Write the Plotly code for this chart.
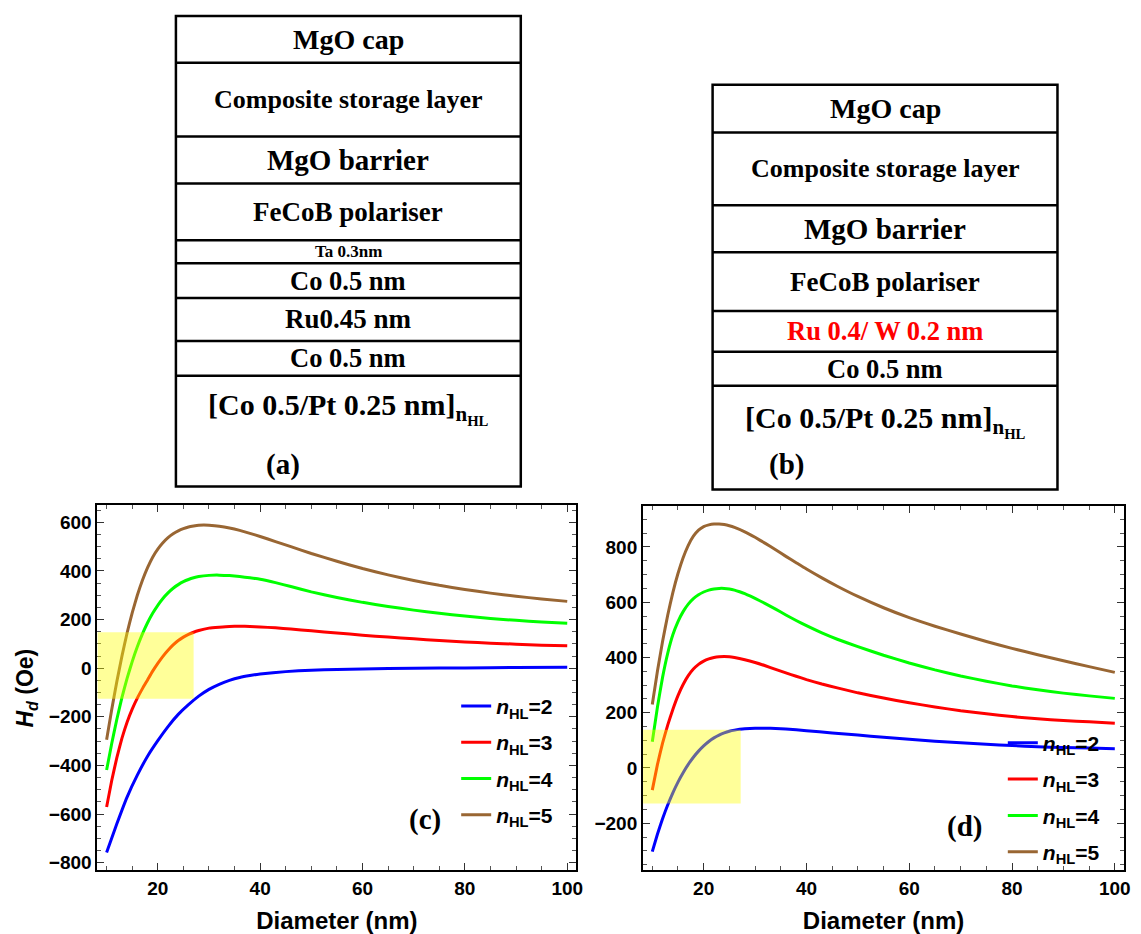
import plotly.graph_objects as go

W, H = 1141, 934
def px(x): return x / W
def py(y): return 1 - y / H

# ---------------- data: panel (c) ----------------
c_x2 = [10, 12, 14, 16, 18, 20, 22, 24, 26, 28, 30, 32, 34, 36, 38, 40, 45, 50, 55, 60, 70, 80, 90, 100]
c_y2 = [-758, -640, -530, -440, -362, -298, -240, -190, -150, -115, -87, -66, -50, -38, -30, -24, -14, -8, -5, -3, 0, 1, 3, 4]
c_x3 = [10, 11, 12, 13, 14, 15, 16, 17, 18, 19, 20, 21, 22, 23, 24, 25, 26, 27, 28, 30, 32, 34, 36, 38, 40, 43, 46, 50, 55, 60, 65, 70, 75, 80, 85, 90, 95, 100]
c_y3 = [-571, -462, -368, -288, -222, -168, -123, -84, -48, -12, 20, 49, 74, 96, 114, 128, 139, 148, 155, 165, 169, 172, 173, 172, 170, 166, 161, 154, 145, 136, 128, 121, 114, 108, 103, 99, 95, 92]
c_x4 = [10, 11, 12, 13, 14, 15, 16, 17, 18, 19, 20, 21, 22, 23, 24, 25, 26, 27, 28, 30, 32, 34, 36, 38, 40, 43, 46, 50, 55, 60, 65, 70, 75, 80, 85, 90, 95, 100]
c_y4 = [-419, -310, -210, -120, -42, 27, 88, 141, 187, 226, 259, 287, 310, 329, 344, 356, 365, 372, 377, 382, 383, 381, 377, 372, 366, 352, 336, 314, 291, 271, 254, 239, 226, 215, 205, 197, 190, 185]
c_x5 = [10, 11, 12, 13, 14, 15, 16, 17, 18, 19, 20, 21, 22, 23, 24, 25, 26, 27, 28, 29, 30, 32, 34, 36, 38, 40, 43, 46, 50, 55, 60, 65, 70, 75, 80, 85, 90, 95, 100]
c_y5 = [-294, -170, -55, 50, 145, 228, 300, 362, 414, 457, 490, 516, 537, 553, 565, 574, 581, 585, 588, 589, 588, 584, 577, 567, 555, 542, 521, 500, 472, 440, 410, 384, 361, 341, 324, 309, 296, 285, 275]

# ---------------- data: panel (d) ----------------
d_x2 = [10, 11, 12, 13, 14, 15, 16, 17, 18, 19, 20, 21, 22, 23, 24, 25, 26, 27, 28, 30, 32, 34, 36, 40, 45, 50, 55, 60, 65, 70, 75, 80, 85, 90, 95, 100]
d_y2 = [-303, -240, -184, -134, -90, -51, -17, 13, 39, 61, 80, 96, 109, 119, 127, 133, 137, 140, 142, 144, 144, 143, 141, 135, 127, 119, 111, 104, 97, 91, 86, 81, 77, 74, 72, 70]
d_x3 = [10, 11, 12, 13, 14, 15, 16, 17, 18, 19, 20, 21, 22, 23, 24, 25, 26, 28, 30, 32, 34, 36, 38, 40, 43, 46, 50, 55, 60, 65, 70, 75, 80, 85, 90, 95, 100]
d_y3 = [-80, 12, 90, 155, 212, 262, 302, 334, 358, 375, 387, 395, 400, 403, 404, 403, 400, 392, 382, 370, 357, 344, 332, 320, 304, 290, 272, 253, 236, 221, 207, 196, 186, 178, 172, 167, 162]
d_x4 = [10, 11, 12, 13, 14, 15, 16, 17, 18, 19, 20, 21, 22, 23, 24, 25, 26, 27, 28, 29, 30, 32, 34, 36, 38, 40, 43, 46, 50, 55, 60, 65, 70, 75, 80, 85, 90, 95, 100]
d_y4 = [95, 220, 328, 415, 482, 530, 566, 593, 613, 627, 637, 644, 648, 650, 650, 648, 644, 638, 631, 623, 614, 595, 575, 554, 534, 515, 489, 466, 439, 408, 380, 355, 333, 314, 297, 283, 271, 261, 252]
d_x5 = [10, 11, 12, 13, 14, 15, 16, 17, 18, 19, 20, 21, 22, 23, 24, 25, 26, 28, 30, 32, 34, 36, 38, 40, 43, 46, 50, 55, 60, 65, 70, 75, 80, 85, 90, 95, 100]
d_y5 = [230, 350, 458, 553, 635, 704, 761, 806, 839, 861, 874, 880, 883, 883, 881, 877, 871, 855, 835, 813, 790, 766, 743, 720, 688, 658, 621, 580, 544, 513, 485, 458, 433, 410, 388, 367, 346]

series_names = ["<i>n</i><sub>HL</sub>=2", "<i>n</i><sub>HL</sub>=3",
                "<i>n</i><sub>HL</sub>=4", "<i>n</i><sub>HL</sub>=5"]
series_colors = ["#0000FF", "#FF0000", "#00FF00", "#996633"]

x_ticks = [20, 40, 60, 80, 100]
c_yticks = [-800, -600, -400, -200, 0, 200, 400, 600]
d_yticks = [-200, 0, 200, 400, 600, 800]

# highlighted region [x_end, y_low, y_high]
c_highlight = [27.0, -126, 148]
d_highlight = [27.2, -129, 138]

# ---------------- layer stacks ----------------
stack_a_labels = ["MgO cap", "Composite storage layer", "MgO barrier", "FeCoB polariser",
                  "Ta 0.3nm", "Co 0.5 nm", "Ru0.45 nm", "Co 0.5 nm",
                  "[Co 0.5/Pt 0.25 nm]<sub>n<sub>HL</sub></sub>"]
stack_b_labels = ["MgO cap", "Composite storage layer", "MgO barrier", "FeCoB polariser",
                  "Ru 0.4/ W 0.2 nm", "Co 0.5 nm",
                  "[Co 0.5/Pt 0.25 nm]<sub>n<sub>HL</sub></sub>"]

# layout of stacks (pixel geometry)
a_box = (177, 524)
a_edges = [16, 63, 137, 184, 241, 264, 299, 342, 377, 488]
a_sizes = [28, 26, 29, 27, 17, 26.5, 27, 26.5, 30]
b_box = (717, 1064)
b_edges = [85, 133, 206, 253, 312, 353, 387, 491]
b_sizes = [28, 26, 29, 27, 26.5, 26.5, 30]
b_colors = ["black"] * 4 + ["#FF0000"] + ["black"] * 2

fig = go.Figure()

panels = [
    ("x", "y", "legend", [(c_x2, c_y2), (c_x3, c_y3), (c_x4, c_y4), (c_x5, c_y5)]),
    ("x2", "y2", "legend2", [(d_x2, d_y2), (d_x3, d_y3), (d_x4, d_y4), (d_x5, d_y5)]),
]
for xa, ya, lg, data in panels:
    for i, (xs, ys) in enumerate(data):
        fig.add_trace(go.Scatter(
            x=xs, y=ys, mode="lines", name=series_names[i],
            line=dict(color=series_colors[i], width=3, shape="spline", smoothing=0.4),
            xaxis=xa, yaxis=ya, legend=lg, legendgroup=lg + str(i),
        ))

sans = "Liberation Sans"
serif = "Liberation Serif"
tickfont = dict(family=sans, size=19, color="black", weight="bold")

def axis_common():
    return dict(
        showline=True, linecolor="black", linewidth=2, mirror="ticks",
        ticks="inside", ticklen=7, tickwidth=1.3, tickcolor="#333",
        showgrid=False, zeroline=False, tickfont=tickfont,
    )

minor_x = dict(tickmode="linear", tick0=0, dtick=5, ticks="inside", ticklen=4, tickcolor="#555", tickwidth=1)
minor_y = dict(tickmode="linear", tick0=0, dtick=50, ticks="inside", ticklen=4, tickcolor="#555", tickwidth=1)
xtitle_font = dict(family=sans, size=24, color="black", weight="bold")

ybot = py(873)
fig.update_layout(
    width=W, height=H, margin=dict(l=0, r=0, t=0, b=0),
    paper_bgcolor="white", plot_bgcolor="white", autosize=False,
    xaxis=dict(domain=[px(98), px(580)], range=[8.2, 101.8], anchor="y",
               tickmode="array", tickvals=x_ticks, minor=minor_x,
               title=dict(text="Diameter (nm)", font=xtitle_font, standoff=17),
               **axis_common()),
    yaxis=dict(domain=[ybot, py(507)], range=[-831, 670], anchor="x",
               tickmode="array", tickvals=c_yticks, minor=minor_y,
               **axis_common()),
    xaxis2=dict(domain=[px(647), px(1131)], range=[8.2, 101.8], anchor="y2",
                tickmode="array", tickvals=x_ticks, minor=minor_x,
                title=dict(text="Diameter (nm)", font=xtitle_font, standoff=17),
                **axis_common()),
    yaxis2=dict(domain=[ybot, py(508)], range=[-370, 947], anchor="x2",
                tickmode="array", tickvals=d_yticks, minor=minor_y,
                **axis_common()),
    legend=dict(x=px(459), y=py(688), xanchor="left", yanchor="top", bgcolor="rgba(0,0,0,0)",
                traceorder="grouped", tracegroupgap=6,
                font=dict(family=sans, size=21, color="black", weight="bold")),
    legend2=dict(x=px(1009), y=py(725), xanchor="left", yanchor="top", bgcolor="rgba(0,0,0,0)",
                 traceorder="grouped", tracegroupgap=6,
                 font=dict(family=sans, size=21, color="black", weight="bold")),
    showlegend=True,
)

shapes = []
# highlight boxes (semi-transparent yellow over the curves)
for xa, ya, hl, xr in [("x", "y", c_highlight, 8.2), ("x2", "y2", d_highlight, 8.2)]:
    shapes.append(dict(type="rect", xref=xa, yref=ya, x0=xr, x1=hl[0], y0=hl[1], y1=hl[2],
                       fillcolor="rgba(255,255,0,0.4)", line=dict(width=0), layer="above"))

annotations = []
# y-axis title of panel (c)
annotations.append(dict(text="<i>H</i><sub><i>d</i></sub> (Oe)", xref="paper", yref="paper",
                        x=px(27), y=py(690), xanchor="center", yanchor="middle", showarrow=False,
                        textangle=-90, font=dict(family=sans, size=23, color="black", weight="bold")))

def stack(box, edges, labels, sizes, colors, last_offset):
    x0, x1 = box
    shapes.append(dict(type="rect", xref="paper", yref="paper", x0=px(x0), x1=px(x1),
                       y0=py(edges[-1]), y1=py(edges[0]), line=dict(color="black", width=2.5),
                       fillcolor="rgba(0,0,0,0)"))
    for e in edges[1:-1]:
        shapes.append(dict(type="line", xref="paper", yref="paper", x0=px(x0), x1=px(x1),
                           y0=py(e), y1=py(e), line=dict(color="black", width=2.5)))
    for i, lab in enumerate(labels):
        top, bot = edges[i], edges[i + 1]
        yc = (top + bot) / 2
        if i == len(labels) - 1:
            yc = top + last_offset
        annotations.append(dict(text=lab, xref="paper", yref="paper", x=px((x0 + x1) / 2), y=py(yc),
                                xanchor="center", yanchor="middle", showarrow=False,
                                font=dict(family=serif, size=sizes[i], color=colors[i], weight="bold")))

stack(a_box, a_edges, stack_a_labels, a_sizes, ["black"] * len(stack_a_labels), 33)
stack(b_box, b_edges, stack_b_labels, b_sizes, b_colors, 36)

panel_labels = [("(a)", 285, 466), ("(b)", 791, 466), ("(c)", 428, 822), ("(d)", 970, 829)]
for t, x, y in panel_labels:
    annotations.append(dict(text=t, xref="paper", yref="paper", x=px(x), y=py(y),
                            xanchor="center", yanchor="middle", showarrow=False,
                            font=dict(family=serif, size=29, color="black", weight="bold")))

fig.update_layout(shapes=shapes, annotations=annotations)
fig.write_html("out.html", config={"displayModeBar": False},
               post_script="document.body.style.margin='0';")
